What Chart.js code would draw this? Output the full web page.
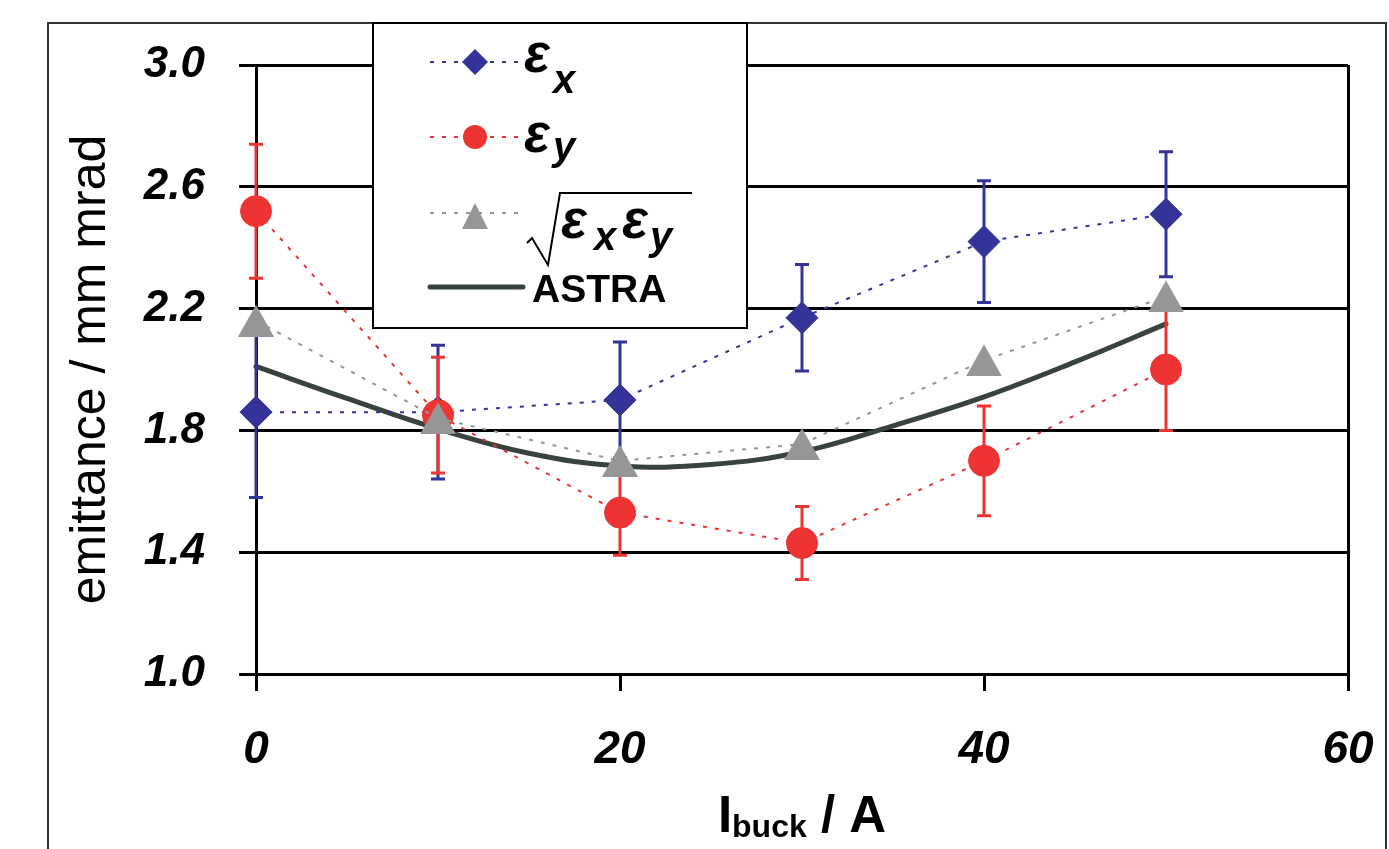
<!DOCTYPE html>
<html>
<head>
<meta charset="utf-8">
<script src="https://cdn.jsdelivr.net/npm/chart.js@4.4.1/dist/chart.umd.min.js"></script>
<style>
  html, body { margin: 0; padding: 0; background: #ffffff; }
  #wrap { width: 1389px; height: 849px; }
</style>
</head>
<body>
<div id="wrap"><canvas id="c" width="1389" height="849"></canvas></div>
<script>
// ---- data ----
const currents = [0, 10, 20, 30, 40, 50];
const epsX     = [1.86, 1.86, 1.90, 2.17, 2.42, 2.51];
const epsXErr  = [0.28, 0.22, 0.19, 0.175, 0.20, 0.205];
const epsY     = [2.52, 1.85, 1.53, 1.43, 1.70, 2.00];
const epsYErr  = [0.22, 0.19, 0.14, 0.12, 0.18, 0.20];
const epsGeo   = [2.16, 1.84, 1.70, 1.755, 2.03, 2.24];
const astraI   = [0, 5, 10, 15, 20, 25, 30, 35, 40, 45, 50];
const astraEps = [2.01, 1.905, 1.805, 1.725, 1.683, 1.688, 1.73, 1.815, 1.91, 2.025, 2.15];
const xTickValues = [0, 20, 40, 60];
const yTickValues = [1.0, 1.4, 1.8, 2.2, 2.6, 3.0];

const BLUE = '#333399', RED = '#ee3333', GREY = '#969696', ASTRA_C = '#39433e';
const FONT = '"Liberation Sans", Arial, sans-serif';

function makeTriangle(w, h, color) {
  const cv = document.createElement('canvas');
  cv.width = w; cv.height = h;
  const g = cv.getContext('2d');
  g.fillStyle = color;
  g.beginPath();
  g.moveTo(w / 2, 0);
  g.lineTo(w, h);
  g.lineTo(0, h);
  g.closePath();
  g.fill();
  return cv;
}
const triBig = makeTriangle(36, 32, GREY);
const triSmall = makeTriangle(26, 26, GREY);

function pts(xs, ys) { return xs.map((x, i) => ({ x: x, y: ys[i] })); }

const errorBars = {
  id: 'errorBars',
  beforeDatasetDraw(chart, args) {
    const ds = chart.data.datasets[args.index];
    if (!ds.errors) return;
    const ctx = chart.ctx, xs = chart.scales.x, ys = chart.scales.y;
    ctx.save();
    ctx.strokeStyle = ds.errorColor;
    ctx.lineWidth = 3;
    ctx.setLineDash([]);
    ds.data.forEach((p, i) => {
      const e = ds.errors[i];
      const px = xs.getPixelForValue(p.x);
      const top = ys.getPixelForValue(p.y + e);
      const bot = ys.getPixelForValue(p.y - e);
      ctx.beginPath();
      ctx.moveTo(px, top); ctx.lineTo(px, bot);
      ctx.moveTo(px - 7, top); ctx.lineTo(px + 7, top);
      ctx.moveTo(px - 7, bot); ctx.lineTo(px + 7, bot);
      ctx.stroke();
    });
    ctx.restore();
  }
};

const decorations = {
  id: 'decorations',
  afterDraw(chart) {
    const ctx = chart.ctx;
    const ca = chart.chartArea;
    ctx.save();
    // outer frame
    ctx.strokeStyle = '#333333';
    ctx.lineWidth = 2;
    ctx.beginPath();
    ctx.moveTo(48, 860); ctx.lineTo(48, 23); ctx.lineTo(1386, 23); ctx.lineTo(1386, 860);
    ctx.stroke();

    // legend box
    const L = 373, T = 23, W = 374, H = 305;
    ctx.fillStyle = '#ffffff';
    ctx.fillRect(L, T, W, H);
    ctx.strokeStyle = '#000000';
    ctx.lineWidth = 2;
    ctx.strokeRect(L, T, W, H);

    const ds = chart.data.datasets;
    const rows = [62, 137, 213, 287];
    const x0 = 430, x1 = 523, xm = 475;
    ds.forEach((d, i) => {
      const y = rows[i];
      ctx.save();
      ctx.strokeStyle = d.borderColor;
      ctx.lineWidth = d.borderWidth;
      ctx.setLineDash(d.borderDash || []);
      ctx.lineCap = d.borderDash ? 'butt' : 'round';
      ctx.beginPath(); ctx.moveTo(x0, y); ctx.lineTo(x1, y); ctx.stroke();
      ctx.restore();
      ctx.fillStyle = d.pointBackgroundColor || d.borderColor;
      if (d.pointStyle === 'rectRot') {
        const r = 13;
        ctx.beginPath();
        ctx.moveTo(xm - r, y); ctx.lineTo(xm, y - r); ctx.lineTo(xm + r, y); ctx.lineTo(xm, y + r);
        ctx.closePath(); ctx.fill();
      } else if (d.pointStyle === 'circle') {
        ctx.beginPath(); ctx.arc(xm, y, 12, 0, Math.PI * 2); ctx.fill();
      } else if (d.pointStyle && d.pointStyle.getContext) {
        ctx.drawImage(triSmall, xm - 13, y - 13 + 3);
      }
    });

    // legend labels
    ctx.fillStyle = '#000000';
    ctx.textBaseline = 'alphabetic';
    ctx.textAlign = 'left';
    const big = 'italic bold 54px ' + FONT;
    const sub = 'italic bold 40px ' + FONT;
    ctx.font = big; ctx.fillText('\u03b5', 524, 72);
    ctx.font = sub; ctx.fillText('x', 553, 93);
    ctx.font = big; ctx.fillText('\u03b5', 524, 152);
    ctx.font = sub; ctx.fillText('y', 553, 160);
    // sqrt(eps_x eps_y)
    ctx.strokeStyle = '#000000';
    ctx.lineWidth = 2;
    ctx.setLineDash([]);
    ctx.beginPath();
    ctx.moveTo(527, 243); ctx.lineTo(532, 238); ctx.lineTo(548, 265); ctx.lineTo(560, 193); ctx.lineTo(692, 193);
    ctx.stroke();
    ctx.font = big; ctx.fillText('\u03b5', 561, 238);
    ctx.font = sub; ctx.fillText('x', 594, 250);
    ctx.font = big; ctx.fillText('\u03b5', 622, 238);
    ctx.font = sub; ctx.fillText('y', 650, 250);
    ctx.font = 'bold 39px ' + FONT;
    ctx.fillText('ASTRA', 532, 302);

    // x axis title with subscript
    const bigT = 'bold 51px ' + FONT, subT = 'bold 32px ' + FONT;
    ctx.font = bigT; const wI = ctx.measureText('I').width;
    ctx.font = subT; const wS = ctx.measureText('buck').width;
    ctx.font = bigT; const wR = ctx.measureText(' / A').width;
    const total = wI + wS + wR;
    let tx = (ca.left + ca.right) / 2 - total / 2;
    const base = ca.bottom + 158;
    ctx.font = bigT; ctx.fillText('I', tx, base); tx += wI;
    ctx.font = subT; ctx.fillText('buck', tx, base + 5); tx += wS;
    ctx.font = bigT; ctx.fillText(' / A', tx, base);
    ctx.restore();
  }
};

const chart = new Chart(document.getElementById('c'), {
  type: 'line',
  data: {
    datasets: [
      {
        label: 'eps_x', data: pts(currents, epsX), errors: epsXErr, errorColor: BLUE,
        borderColor: BLUE, backgroundColor: BLUE, pointBackgroundColor: BLUE, pointBorderColor: BLUE,
        borderWidth: 2, borderDash: [4, 8], pointStyle: 'rectRot', pointRadius: 16, pointBorderWidth: 1,
        tension: 0, order: 3, clip: false
      },
      {
        label: 'eps_y', data: pts(currents, epsY), errors: epsYErr, errorColor: RED,
        borderColor: RED, backgroundColor: RED, pointBackgroundColor: RED, pointBorderColor: RED,
        borderWidth: 2, borderDash: [4, 8], pointStyle: 'circle', pointRadius: 15.5, pointBorderWidth: 1,
        tension: 0, order: 2, clip: false
      },
      {
        label: 'sqrt', data: pts(currents, epsGeo),
        borderColor: GREY, backgroundColor: GREY, pointBackgroundColor: GREY,
        borderWidth: 2, borderDash: [4, 8], pointStyle: triBig, pointRadius: 18,
        tension: 0, order: 1, clip: false
      },
      {
        label: 'ASTRA', data: pts(astraI, astraEps),
        borderColor: ASTRA_C, backgroundColor: ASTRA_C,
        borderWidth: 5, pointRadius: 0, tension: 0.4,
        borderCapStyle: 'round', order: 4, clip: false
      }
    ]
  },
  options: {
    responsive: false,
    animation: false,
    events: [],
    devicePixelRatio: 1,
    layout: { padding: { top: 65, right: 41, left: 0, bottom: 0 } },
    plugins: { legend: { display: false }, tooltip: { enabled: false } },
    scales: {
      x: {
        type: 'linear', min: 0, max: 60,
        afterBuildTicks: s => { s.ticks = xTickValues.map(v => ({ value: v })); },
        afterFit: s => { s.height = 175; s.paddingLeft = 0; s.paddingRight = 0; },
        grid: {
          drawOnChartArea: true,
          color: c => (c.tick && c.tick.value === 60) ? '#000000' : 'rgba(0,0,0,0)',
          tickColor: '#000000', lineWidth: 3, tickLength: 17
        },
        border: { display: true, color: '#000000', width: 3 },
        ticks: {
          color: '#000000', padding: 32,
          font: { family: FONT, size: 46, style: 'italic', weight: 'bold' },
          callback: v => String(v)
        },
        title: { display: false }
      },
      y: {
        min: 1, max: 3,
        afterBuildTicks: s => { s.ticks = yTickValues.map(v => ({ value: v })); },
        afterFit: s => { s.width = 256; },
        grid: { color: '#000000', tickColor: '#000000', lineWidth: 3, tickLength: 17 },
        border: { display: true, color: '#000000', width: 3 },
        ticks: {
          color: '#000000', padding: 34,
          font: { family: FONT, size: 44, style: 'italic', weight: 'bold' },
          callback: v => Number(v).toFixed(1)
        },
        title: {
          display: true, text: 'emittance / mm mrad', color: '#000000',
          font: { family: FONT, size: 50, weight: 'normal', lineHeight: 1 },
          padding: { top: 66, bottom: 0 }
        }
      }
    }
  },
  plugins: [errorBars, decorations]
});
</script>
</body>
</html>
